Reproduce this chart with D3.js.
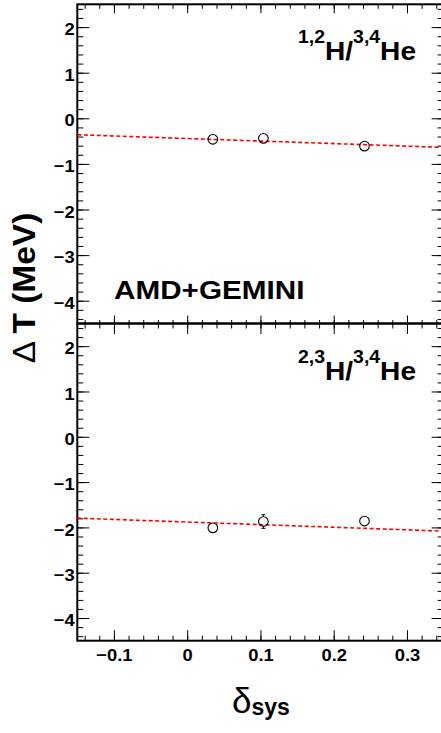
<!DOCTYPE html>
<html>
<head>
<meta charset="utf-8">
<script src="https://cdn.jsdelivr.net/npm/d3@7"></script>
<style>
  body { margin: 0; background: #fff; }
  svg { display: block; }
</style>
</head>
<body>
<div id="chart"></div>
<script>
// delta_sys of the three reaction systems
const deltaSys = [0.035, 0.104, 0.242];

// top panel: 1,2H / 3,4He
const dtTop = [-0.46, -0.44, -0.61];
const errTop = [0.05, 0.05, 0.05];
const fitTop = [[-0.15, -0.36], [0.35, -0.638]];

// bottom panel: 2,3H / 3,4He
const dtBot = [-2.01, -1.87, -1.86];
const errBot = [0.05, 0.15, 0.05];
const fitBot = [[-0.15, -1.795], [0.35, -2.082]];

const xTicks = [-0.1, 0, 0.1, 0.2, 0.3];
const yTicks = [-4, -3, -2, -1, 0, 1, 2];

const width = 441, height = 733;
const frameL = 77.3, frameR = 443.6, frameT = 4.3, frameM = 323.5, frameB = 640.7;
const sx = 1.08; // ROOT text is a bit wider than Liberation Sans
const font = "'Liberation Sans', Arial, Helvetica, sans-serif";

const svg = d3.select("#chart").append("svg")
    .attr("width", width)
    .attr("height", height)
    .attr("viewBox", `0 0 ${width} ${height}`);

const x = d3.scaleLinear().domain([-0.15, 0.35]).range([frameL, frameR]);

const panels = [
    { y0: frameT, y1: frameM, values: dtTop, errors: errTop, fit: fitTop, sup: "1,2", last: false },
    { y0: frameM, y1: frameB, values: dtBot, errors: errBot, fit: fitBot, sup: "2,3", last: true }
];

panels.forEach(p => {
    const y = d3.scaleLinear().domain([-4.5, 2.5]).range([p.y1, p.y0]);
    const g = svg.append("g");

    // y axis, left (labels) and right
    const yl = g.append("g").attr("transform", `translate(${frameL},0)`)
        .call(d3.axisLeft(y).tickValues(yTicks).tickSize(-12).tickPadding(2.5).tickFormat(d3.format("d")));
    g.append("g").attr("transform", `translate(${frameL},0)`)
        .call(d3.axisLeft(y).tickValues(y.ticks(35)).tickSize(-6).tickFormat(""));
    g.append("g").attr("transform", `translate(${frameR},0)`)
        .call(d3.axisRight(y).tickValues(yTicks).tickSize(-12).tickFormat(""));
    g.append("g").attr("transform", `translate(${frameR},0)`)
        .call(d3.axisRight(y).tickValues(y.ticks(35)).tickSize(-6).tickFormat(""));

    yl.selectAll("text")
        .attr("dy", "0.45em")
        .attr("transform", `scale(${sx},1)`)
        .style("font-family", font)
        .style("font-weight", "bold")
        .style("font-size", "17px")
        .style("fill", "#000");

    // x axis, top and bottom
    const xMaj = p.last ? 10.5 : 9, xMin = p.last ? 5 : 4.5;
    g.append("g").attr("transform", `translate(0,${p.y0})`)
        .call(d3.axisTop(x).tickValues(xTicks).tickSize(-xMaj).tickFormat(""));
    g.append("g").attr("transform", `translate(0,${p.y0})`)
        .call(d3.axisTop(x).tickValues(x.ticks(25)).tickSize(-xMin).tickFormat(""));
    const xb = g.append("g").attr("transform", `translate(0,${p.y1})`)
        .call(d3.axisBottom(x).tickValues(xTicks).tickSize(-(p.last ? 10.5 : 8)).tickPadding(8)
            .tickFormat(p.last ? (d => d === 0 ? "0" : d3.format(".1f")(d)) : ""));
    g.append("g").attr("transform", `translate(0,${p.y1})`)
        .call(d3.axisBottom(x).tickValues(x.ticks(25)).tickSize(-(p.last ? 5 : 3.5)).tickFormat(""));

    xb.selectAll("text")
        .attr("transform", `scale(${sx},1)`)
        .style("font-family", font)
        .style("font-weight", "bold")
        .style("font-size", "17px")
        .style("fill", "#000");

    g.selectAll(".domain").remove();
    g.selectAll(".tick line").attr("stroke", "#000").attr("stroke-width", 1);

    // frame
    g.append("rect")
        .attr("x", frameL).attr("y", p.y0)
        .attr("width", frameR - frameL).attr("height", p.y1 - p.y0)
        .attr("fill", "none").attr("stroke", "#000").attr("stroke-width", 2);

    // fit line
    g.append("path")
        .datum(p.fit)
        .attr("d", d3.line().x(d => x(d[0])).y(d => y(d[1])))
        .attr("fill", "none")
        .attr("stroke", "#ff0000")
        .attr("stroke-width", 1.6)
        .attr("stroke-dasharray", "4,2.5");

    // points with error bars (drawn outside the marker only)
    const r = 4.8;
    const pts = g.append("g").selectAll("g")
        .data(deltaSys.map((d, i) => ({ x: d, y: p.values[i], e: p.errors[i] })))
        .join("g")
        .attr("transform", d => `translate(${x(d.x)},${y(d.y)})`);

    pts.each(function(d) {
        const h = y(d.y - d.e) - y(d.y);
        if (h > r) {
            const s = d3.select(this);
            [-1, 1].forEach(k => {
                s.append("line").attr("x1", 0).attr("x2", 0)
                    .attr("y1", k * r).attr("y2", k * h)
                    .attr("stroke", "#000").attr("stroke-width", 1);
                s.append("line").attr("x1", -2).attr("x2", 2)
                    .attr("y1", k * h).attr("y2", k * h)
                    .attr("stroke", "#000").attr("stroke-width", 1);
            });
        }
    });

    pts.append("circle")
        .attr("r", r)
        .attr("fill", "none")
        .attr("stroke", "#000")
        .attr("stroke-width", 1.1);

    // panel label  e.g. 1,2H/3,4He
    const lab = g.append("g")
        .attr("transform", `translate(298,${p.y0 + 56}) scale(${sx},1)`)
        .append("text")
        .style("font-family", font)
        .style("font-weight", "bold")
        .style("font-size", "26px");
    lab.append("tspan").style("font-size", "18px").attr("dy", -17).text(p.sup);
    lab.append("tspan").attr("dy", 17).text("H/");
    lab.append("tspan").style("font-size", "18px").attr("dy", -17).text("3,4");
    lab.append("tspan").attr("dy", 17).text("He");
});

// model label
svg.append("g")
    .attr("transform", `translate(114,299.3) scale(1.12,1)`)
    .append("text")
    .style("font-family", font)
    .style("font-weight", "bold")
    .style("font-size", "26.5px")
    .text("AMD+GEMINI");

// y title
const yt = svg.append("g")
    .attr("transform", `translate(35,288) rotate(-90) scale(${sx},1)`)
    .append("text")
    .attr("text-anchor", "middle")
    .style("font-family", font)
    .style("font-size", "31px");
yt.append("tspan").text("\u0394 ");
yt.append("tspan").style("font-weight", "bold").text("T (MeV)");

// x title
const xt = svg.append("g")
    .attr("transform", `translate(232,713)`)
    .append("text")
    .style("font-family", font);
xt.append("tspan").style("font-size", "35px").text("\u03b4");
xt.append("tspan").style("font-size", "23px").style("font-weight", "bold").attr("dy", 2).text("sys");
</script>
</body>
</html>
